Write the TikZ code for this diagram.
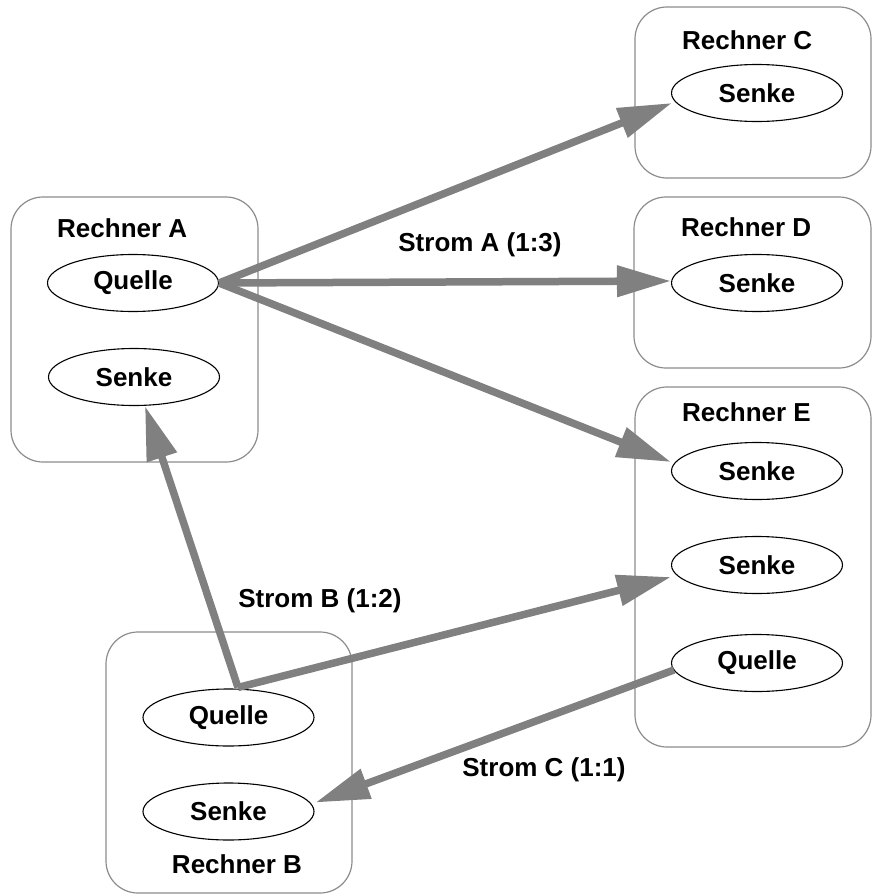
\documentclass[tikz,border=0pt]{standalone}
\usepackage{fontspec}
\setmainfont{Liberation Sans}
\usetikzlibrary{shapes.geometric,arrows.meta,calc}
\definecolor{arrowgray}{HTML}{808080}
\definecolor{boxgray}{HTML}{8C8C8C}
\tikzset{
  hostbox/.style={draw=boxgray, line width=1.2pt, rounded corners=32pt, inner sep=0pt},
  proc/.style={draw=black, line width=1.1pt, ellipse, minimum width=171pt, minimum height=57pt, inner sep=0pt, font=\bfseries\fontsize{26}{30}\selectfont},
  lbl/.style={inner sep=0pt, font=\bfseries\fontsize{26}{30}\selectfont},
  flow/.style={draw=arrowgray, line width=7.5pt, -{Triangle[length=54pt,width=30pt]}}
}
\begin{document}
\begin{tikzpicture}[x=1pt,y=-1pt]
\useasboundingbox (0,0) rectangle (872,894);
% host boxes
\draw[hostbox] (11,197) rectangle (258,462);
\draw[hostbox] (635,7) rectangle (871,178);
\draw[hostbox] (634,197) rectangle (871,368);
\draw[hostbox] (635,387) rectangle (871,747);
\draw[hostbox] (106,632) rectangle (352,893);
% host labels
\node[lbl, anchor=west] (labA) at (57,228) {Rechner A};
\node[lbl, anchor=west] (labC) at (682,40) {Rechner C};
\node[lbl, anchor=west] (labD) at (681,227) {Rechner D};
\node[lbl, anchor=west] (labE) at (682,412) {Rechner E};
\node[lbl] (labB) at (237,864) {Rechner B};
% processes
\node[proc] (qa) at (133,283) {Quelle};
\node[proc] (sa) at (134,377) {Senke};
\node[proc] (sc) at (757,93) {Senke};
\node[proc] (sd) at (757,283) {Senke};
\node[proc] (se1) at (757,471) {Senke};
\node[proc] (se2) at (757,565) {Senke};
\node[proc] (qe) at (757,663) {Quelle};
\node[proc] (qb) at (228.5,717.5) {Quelle};
\node[proc] (sb) at (228.5,811.5) {Senke};
% flow labels
\node[lbl] (strA) at (480,245) {Strom A (1:3)};
\node[lbl] (strB) at (320,601) {Strom B (1:2)};
\node[lbl] (strC) at (544,770) {Strom C (1:1)};
% flows
\coordinate (qbtop) at ($(qb.north)+(9.5,-1)$);
\draw[flow] (qa.east) -- ($(sc.west)+(1,10)$);
\draw[flow] (qa.east) -- ($(sd.west)+(0,-2)$);
\draw[flow] (qa.east) -- ($(se1.west)+(0,-9)$);
\draw[flow] (qbtop) -- ($(sa.south)+(11,0)$);
\draw[flow] (qbtop) -- ($(se2.west)+(0,12)$);
\draw[flow] ($(qe.west)+(3,7)$) -- ($(sb.east)+(1,-9)$);
\end{tikzpicture}
\end{document}
